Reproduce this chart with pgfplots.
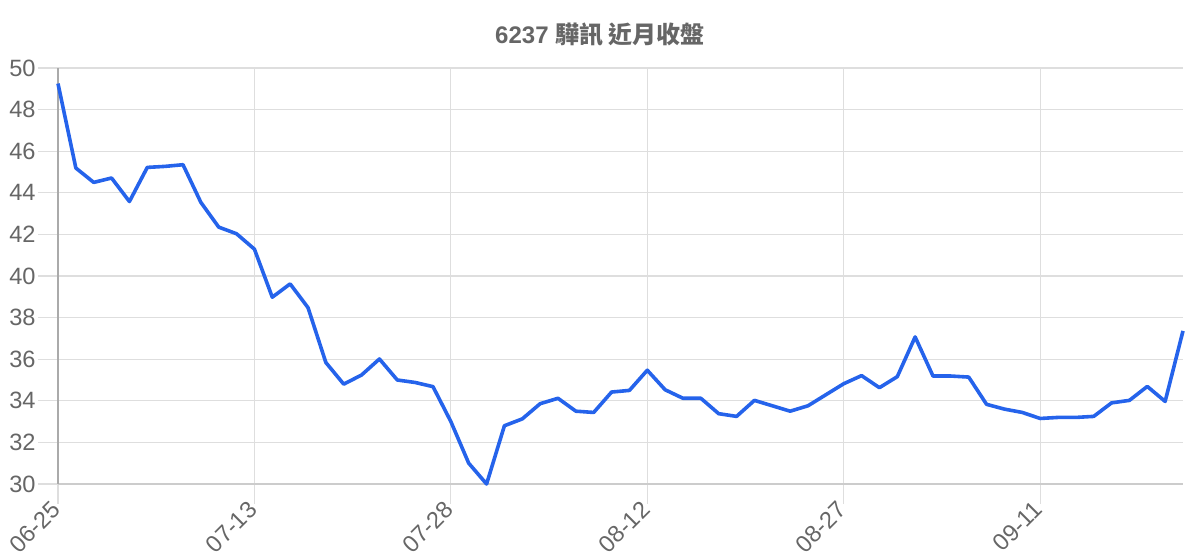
\documentclass[border=0pt]{standalone}
\usepackage{pgfplots}
\pgfplotsset{compat=1.18}
\usepackage{fontspec}
\setmainfont{Liberation Sans}
\newfontfamily\cjk{Noto Sans CJK TC}
\definecolor{priceline}{HTML}{2563EB}
\definecolor{gridc}{HTML}{DEDEDE}
\definecolor{axisl}{HTML}{AAAAAA}
\definecolor{axisb}{HTML}{CCCCCC}
\definecolor{tickc}{HTML}{666666}

\begin{document}
\begin{tikzpicture}
\path[use as bounding box] (0,0) rectangle (600pt,280pt);
\node[text=tickc, font=\fontsize{12}{14}\selectfont\bfseries] at (300pt,262.5pt) {6237 {\cjk 驊訊 近月收盤}};
\begin{axis}[
    at={(29pt,38pt)}, anchor=south west,
    scale only axis,
    width=562.5pt, height=208pt,
    xmin=0, xmax=63,
    ymin=30, ymax=50,
    xtick={0,11,22,33,44,55},
    xticklabels={06-25,07-13,07-28,08-12,08-27,09-11},
    ytick={30,32,...,50},
    axis lines*=left,
    x axis line style={draw=axisb, line width=0.7pt},
    y axis line style={draw=axisl, line width=0.7pt},
    grid=major,
    major grid style={draw=gridc, line width=0.6pt},
    tick align=outside,
    major tick length=10pt,
    tick style={draw=gridc, line width=0.6pt},
    ticklabel style={font=\fontsize{11.8}{13}\selectfont, text=tickc},
    yticklabel style={inner sep=1pt},
    xticklabel style={rotate=45, anchor=east, inner sep=1pt},
    /pgf/number format/assume math mode=true,
    clip=false,
]
\addplot[priceline, line width=1.8pt, mark=none, line join=round] coordinates {
(0,49.25) (1,45.19) (2,44.50) (3,44.71) (4,43.58) (5,45.22) (6,45.27) (7,45.35)
(8,43.54) (9,42.35) (10,42.03) (11,41.29) (12,38.98) (13,39.62) (14,38.48) (15,35.84)
(16,34.80) (17,35.24) (18,36.01) (19,35.00) (20,34.88) (21,34.68) (22,33.00) (23,31.00)
(24,30.00) (25,32.80) (26,33.13) (27,33.86) (28,34.12) (29,33.50) (30,33.44) (31,34.42)
(32,34.50) (33,35.47) (34,34.53) (35,34.12) (36,34.12) (37,33.38) (38,33.25) (39,34.02)
(40,33.76) (41,33.50) (42,33.76) (43,34.29) (44,34.82) (45,35.21) (46,34.63) (47,35.16)
(48,37.07) (49,35.19) (50,35.19) (51,35.14) (52,33.83) (53,33.60) (54,33.44) (55,33.15)
(56,33.20) (57,33.20) (58,33.25) (59,33.90) (60,34.02) (61,34.69) (62,33.97) (63,37.36)
};
\end{axis}
\end{tikzpicture}
\end{document}
